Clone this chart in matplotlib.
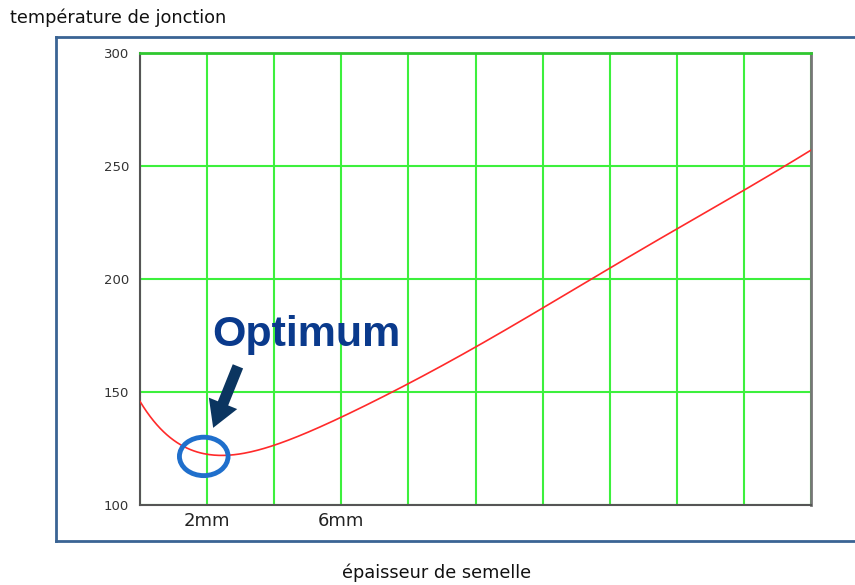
import numpy as np
import matplotlib.pyplot as plt
from matplotlib.patches import Ellipse, FancyArrowPatch
from matplotlib.lines import Line2D

plt.rcParams['font.family'] = ['DejaVu Sans']

# épaisseur de semelle (mm) et température de jonction
thickness = [0, 0.5, 1, 1.5, 2, 2.5, 3, 4, 5, 6, 7, 8, 9, 10, 11, 12, 13, 14, 15, 16, 17, 18, 19, 20]
temperature = [145.5, 136, 129, 124.5, 122, 121.8, 122.6, 126.5, 132.5, 139, 146, 153.5, 161.5, 170,
               178.5, 187, 196, 205, 213.5, 222, 230.5, 239.5, 248, 257]

x_grid = list(range(0, 21, 2))
x_labels = ['', '2mm', '', '6mm', '', '', '', '', '', '', '']
y_ticks = [100, 150, 200, 250, 300]

fig = plt.figure(figsize=(8.55, 5.85), dpi=100)
W, H = 855, 585
ax = fig.add_axes([140 / W, 1 - 505 / H, (811 - 140) / W, (505 - 53) / H])

# smooth curve through the read values
xs = np.linspace(0, 20, 400)
coef = np.polyfit(thickness, temperature, 7)
ax.plot(xs, np.polyval(coef, xs), color='#ff2a2a', lw=1.2, zorder=3)

ax.set_xlim(0, 20)
ax.set_ylim(100, 300)
ax.set_xticks(x_grid)
ax.set_xticklabels(x_labels, fontsize=13, color='#222222')
ax.set_yticks(y_ticks)
ax.set_yticklabels([str(v) for v in y_ticks], fontsize=9.5, color='#333333')
ax.tick_params(length=0, pad=8)
ax.tick_params(axis='x', pad=5)
ax.grid(True, color='#3df03d', lw=1.5)
ax.set_axisbelow(True)

for side in ['left', 'bottom']:
    ax.spines[side].set_color('#555555')
    ax.spines[side].set_linewidth(1.5)
ax.spines['right'].set_color('#777777')
ax.spines['right'].set_linewidth(2)
ax.spines['top'].set_color('#2fc82f')
ax.spines['top'].set_linewidth(2)

# optimum marker
ax.add_patch(Ellipse((1.9, 121.5), 1.45, 17, fill=False, ec='#1f6fcc', lw=3.5, zorder=4))
ax.add_patch(FancyArrowPatch((2.95, 162.5), (2.15, 133),
                             arrowstyle='simple,head_length=0.95,head_width=1.1,tail_width=0.4',
                             mutation_scale=20, color='#0b3560', lw=0, zorder=5))
ax.text(2.15, 170.5, 'Optimum', fontsize=31, fontweight='bold', color='#0a3a8c',
        family='Liberation Sans', zorder=5)

# outer frame
for xy in [([56, 855], [37, 37]), ([56, 855], [541, 541]), ([56, 56], [37, 541])]:
    fig.add_artist(Line2D(np.array(xy[0]) / W, 1 - np.array(xy[1]) / H,
                          color='#3a6494', lw=2))

fig.text(10 / W, 1 - 18 / H, 'température de jonction', fontsize=12.8, va='center', ha='left',
         color='#111111')
fig.text(437 / W, 1 - 573 / H, 'épaisseur de semelle', fontsize=12.8, va='center', ha='center',
         color='#111111')

fig.savefig('out.png', dpi=100)
